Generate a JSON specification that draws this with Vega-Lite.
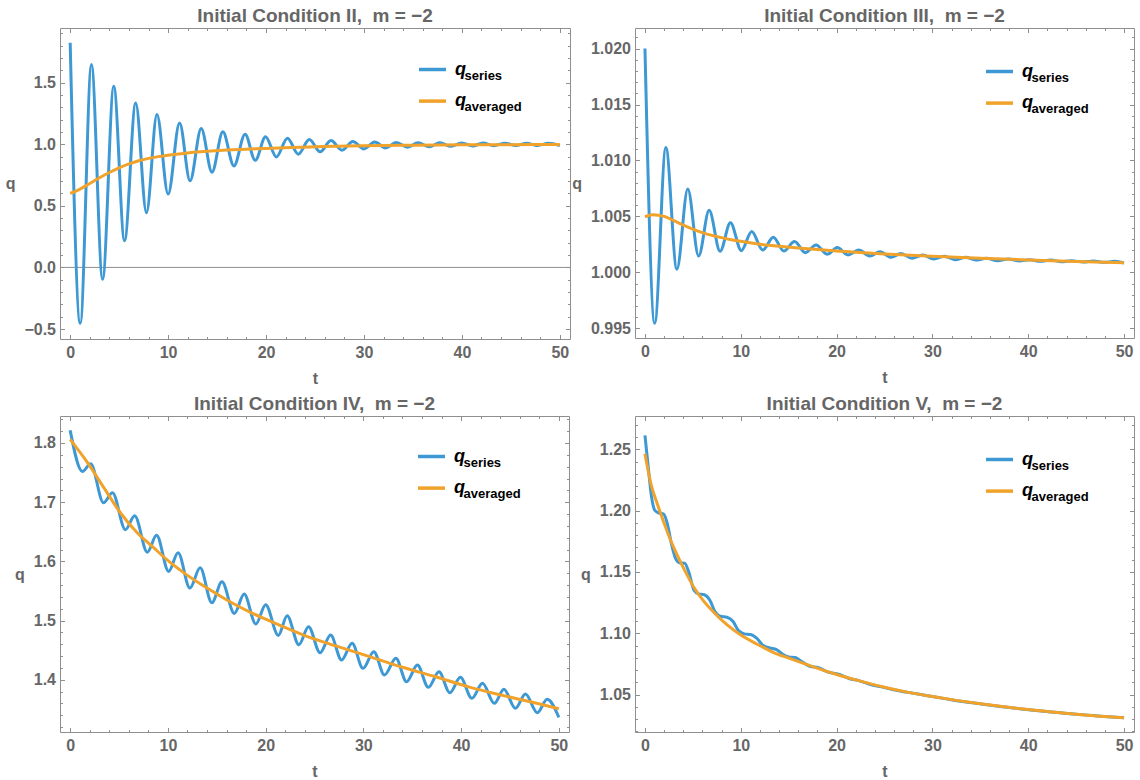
{
  "$schema": "https://vega.github.io/schema/vega-lite/v6.json",
  "background": "white",
  "padding": {"left": 4, "top": 6, "right": 0, "bottom": 0},
  "datasets": {
    "p1": [
      {"t": 0, "q": 1.824, "curve": "series"},
      {"t": 1.03, "q": -0.454, "curve": "series"},
      {"t": 2.17, "q": 1.646, "curve": "series"},
      {"t": 3.31, "q": -0.097, "curve": "series"},
      {"t": 4.45, "q": 1.47, "curve": "series"},
      {"t": 5.55, "q": 0.216, "curve": "series"},
      {"t": 6.69, "q": 1.335, "curve": "series"},
      {"t": 7.79, "q": 0.443, "curve": "series"},
      {"t": 8.86, "q": 1.241, "curve": "series"},
      {"t": 10.0, "q": 0.595, "curve": "series"},
      {"t": 11.17, "q": 1.173, "curve": "series"},
      {"t": 12.24, "q": 0.703, "curve": "series"},
      {"t": 13.38, "q": 1.127, "curve": "series"},
      {"t": 14.48, "q": 0.773, "curve": "series"},
      {"t": 15.59, "q": 1.1, "curve": "series"},
      {"t": 16.72, "q": 0.824, "curve": "series"},
      {"t": 17.86, "q": 1.081, "curve": "series"},
      {"t": 18.9, "q": 0.869, "curve": "series"},
      {"t": 19.95, "q": 1.06, "curve": "series"},
      {"t": 21.05, "q": 0.897, "curve": "series"},
      {"t": 22.19, "q": 1.049, "curve": "series"},
      {"t": 23.29, "q": 0.919, "curve": "series"},
      {"t": 24.42, "q": 1.038, "curve": "series"},
      {"t": 25.53, "q": 0.938, "curve": "series"},
      {"t": 26.63, "q": 1.03, "curve": "series"},
      {"t": 27.76, "q": 0.951, "curve": "series"},
      {"t": 28.86, "q": 1.022, "curve": "series"},
      {"t": 29.99, "q": 0.962, "curve": "series"},
      {"t": 31.09, "q": 1.017, "curve": "series"},
      {"t": 32.23, "q": 0.97, "curve": "series"},
      {"t": 33.3, "q": 1.014, "curve": "series"},
      {"t": 34.45, "q": 0.976, "curve": "series"},
      {"t": 35.52, "q": 1.012, "curve": "series"},
      {"t": 36.68, "q": 0.979, "curve": "series"},
      {"t": 37.74, "q": 1.011, "curve": "series"},
      {"t": 38.9, "q": 0.983, "curve": "series"},
      {"t": 39.97, "q": 1.01, "curve": "series"},
      {"t": 41.1, "q": 0.986, "curve": "series"},
      {"t": 42.16, "q": 1.009, "curve": "series"},
      {"t": 43.26, "q": 0.988, "curve": "series"},
      {"t": 44.42, "q": 1.008, "curve": "series"},
      {"t": 45.5, "q": 0.989, "curve": "series"},
      {"t": 46.6, "q": 1.008, "curve": "series"},
      {"t": 47.72, "q": 0.99, "curve": "series"},
      {"t": 48.84, "q": 1.007, "curve": "series"},
      {"t": 50, "q": 0.988, "curve": "series"},
      {"t": 0, "q": 0.6, "curve": "averaged"},
      {"t": 1, "q": 0.636, "curve": "averaged"},
      {"t": 2, "q": 0.681, "curve": "averaged"},
      {"t": 3, "q": 0.728, "curve": "averaged"},
      {"t": 4, "q": 0.77, "curve": "averaged"},
      {"t": 5, "q": 0.808, "curve": "averaged"},
      {"t": 6, "q": 0.84, "curve": "averaged"},
      {"t": 7, "q": 0.866, "curve": "averaged"},
      {"t": 8, "q": 0.885, "curve": "averaged"},
      {"t": 9, "q": 0.899, "curve": "averaged"},
      {"t": 10, "q": 0.91, "curve": "averaged"},
      {"t": 12, "q": 0.929, "curve": "averaged"},
      {"t": 14, "q": 0.942, "curve": "averaged"},
      {"t": 16, "q": 0.952, "curve": "averaged"},
      {"t": 18, "q": 0.959, "curve": "averaged"},
      {"t": 20, "q": 0.966, "curve": "averaged"},
      {"t": 22.5, "q": 0.973, "curve": "averaged"},
      {"t": 25, "q": 0.979, "curve": "averaged"},
      {"t": 27.5, "q": 0.984, "curve": "averaged"},
      {"t": 30, "q": 0.988, "curve": "averaged"},
      {"t": 35, "q": 0.992, "curve": "averaged"},
      {"t": 40, "q": 0.995, "curve": "averaged"},
      {"t": 45, "q": 0.996, "curve": "averaged"},
      {"t": 50, "q": 0.997, "curve": "averaged"}
    ],
    "p2": [
      {"t": 0, "q": 1.02, "curve": "series"},
      {"t": 1.02, "q": 0.99545, "curve": "series"},
      {"t": 2.18, "q": 1.01116, "curve": "series"},
      {"t": 3.33, "q": 1.00027, "curve": "series"},
      {"t": 4.47, "q": 1.00744, "curve": "series"},
      {"t": 5.6, "q": 1.00146, "curve": "series"},
      {"t": 6.7, "q": 1.00554, "curve": "series"},
      {"t": 7.84, "q": 1.00188, "curve": "series"},
      {"t": 8.92, "q": 1.00443, "curve": "series"},
      {"t": 10.06, "q": 1.00194, "curve": "series"},
      {"t": 11.14, "q": 1.00365, "curve": "series"},
      {"t": 12.28, "q": 1.00199, "curve": "series"},
      {"t": 13.4, "q": 1.00313, "curve": "series"},
      {"t": 14.49, "q": 1.0019, "curve": "series"},
      {"t": 15.61, "q": 1.00275, "curve": "series"},
      {"t": 16.74, "q": 1.00176, "curve": "series"},
      {"t": 17.86, "q": 1.00244, "curve": "series"},
      {"t": 19.02, "q": 1.00161, "curve": "series"},
      {"t": 20.07, "q": 1.00222, "curve": "series"},
      {"t": 21.19, "q": 1.00155, "curve": "series"},
      {"t": 22.31, "q": 1.00199, "curve": "series"},
      {"t": 23.47, "q": 1.00146, "curve": "series"},
      {"t": 24.52, "q": 1.00184, "curve": "series"},
      {"t": 25.68, "q": 1.00134, "curve": "series"},
      {"t": 26.73, "q": 1.00169, "curve": "series"},
      {"t": 27.86, "q": 1.00125, "curve": "series"},
      {"t": 28.98, "q": 1.00155, "curve": "series"},
      {"t": 30.14, "q": 1.00119, "curve": "series"},
      {"t": 31.26, "q": 1.00143, "curve": "series"},
      {"t": 32.35, "q": 1.00113, "curve": "series"},
      {"t": 33.47, "q": 1.00134, "curve": "series"},
      {"t": 34.52, "q": 1.0011, "curve": "series"},
      {"t": 35.64, "q": 1.00125, "curve": "series"},
      {"t": 36.8, "q": 1.00104, "curve": "series"},
      {"t": 37.96, "q": 1.00119, "curve": "series"},
      {"t": 39.08, "q": 1.00101, "curve": "series"},
      {"t": 40.13, "q": 1.00113, "curve": "series"},
      {"t": 41.26, "q": 1.00098, "curve": "series"},
      {"t": 42.34, "q": 1.0011, "curve": "series"},
      {"t": 43.47, "q": 1.00095, "curve": "series"},
      {"t": 44.52, "q": 1.00104, "curve": "series"},
      {"t": 45.75, "q": 1.00092, "curve": "series"},
      {"t": 46.8, "q": 1.00101, "curve": "series"},
      {"t": 47.93, "q": 1.00089, "curve": "series"},
      {"t": 49.01, "q": 1.00098, "curve": "series"},
      {"t": 50, "q": 1.00083, "curve": "series"},
      {"t": 0, "q": 1.00497, "curve": "averaged"},
      {"t": 0.8, "q": 1.00515, "curve": "averaged"},
      {"t": 2, "q": 1.005, "curve": "averaged"},
      {"t": 3, "q": 1.00462, "curve": "averaged"},
      {"t": 4, "q": 1.00422, "curve": "averaged"},
      {"t": 5, "q": 1.00386, "curve": "averaged"},
      {"t": 6, "q": 1.00355, "curve": "averaged"},
      {"t": 7, "q": 1.0033, "curve": "averaged"},
      {"t": 8, "q": 1.0031, "curve": "averaged"},
      {"t": 9, "q": 1.00292, "curve": "averaged"},
      {"t": 10, "q": 1.00277, "curve": "averaged"},
      {"t": 12, "q": 1.00252, "curve": "averaged"},
      {"t": 14, "q": 1.00233, "curve": "averaged"},
      {"t": 16, "q": 1.00217, "curve": "averaged"},
      {"t": 18, "q": 1.00203, "curve": "averaged"},
      {"t": 20, "q": 1.00191, "curve": "averaged"},
      {"t": 22, "q": 1.0018, "curve": "averaged"},
      {"t": 25, "q": 1.00164, "curve": "averaged"},
      {"t": 30, "q": 1.00143, "curve": "averaged"},
      {"t": 35, "q": 1.00126, "curve": "averaged"},
      {"t": 40, "q": 1.00111, "curve": "averaged"},
      {"t": 45, "q": 1.00097, "curve": "averaged"},
      {"t": 50, "q": 1.00086, "curve": "averaged"}
    ],
    "p3": [
      {"t": 0, "q": 1.8214, "curve": "series"},
      {"t": 1.25, "q": 1.752, "curve": "series"},
      {"t": 2.1, "q": 1.765, "curve": "series"},
      {"t": 3.41, "q": 1.699, "curve": "series"},
      {"t": 4.33, "q": 1.716, "curve": "series"},
      {"t": 5.65, "q": 1.6535, "curve": "series"},
      {"t": 6.6, "q": 1.677, "curve": "series"},
      {"t": 7.9, "q": 1.6155, "curve": "series"},
      {"t": 8.84, "q": 1.644, "curve": "series"},
      {"t": 10.08, "q": 1.583, "curve": "series"},
      {"t": 11.04, "q": 1.6146, "curve": "series"},
      {"t": 12.25, "q": 1.555, "curve": "series"},
      {"t": 13.3, "q": 1.589, "curve": "series"},
      {"t": 14.5, "q": 1.53, "curve": "series"},
      {"t": 15.53, "q": 1.5655, "curve": "series"},
      {"t": 16.8, "q": 1.5121, "curve": "series"},
      {"t": 17.8, "q": 1.5448, "curve": "series"},
      {"t": 19.0, "q": 1.4941, "curve": "series"},
      {"t": 20.0, "q": 1.5268, "curve": "series"},
      {"t": 21.3, "q": 1.4749, "curve": "series"},
      {"t": 22.2, "q": 1.5082, "curve": "series"},
      {"t": 23.4, "q": 1.4592, "curve": "series"},
      {"t": 24.39, "q": 1.4895, "curve": "series"},
      {"t": 25.57, "q": 1.4456, "curve": "series"},
      {"t": 26.65, "q": 1.4755, "curve": "series"},
      {"t": 27.77, "q": 1.4333, "curve": "series"},
      {"t": 28.85, "q": 1.4615, "curve": "series"},
      {"t": 29.96, "q": 1.4193, "curve": "series"},
      {"t": 31.07, "q": 1.4473, "curve": "series"},
      {"t": 32.16, "q": 1.408, "curve": "series"},
      {"t": 33.33, "q": 1.4361, "curve": "series"},
      {"t": 34.42, "q": 1.3966, "curve": "series"},
      {"t": 35.53, "q": 1.4248, "curve": "series"},
      {"t": 36.65, "q": 1.3872, "curve": "series"},
      {"t": 37.73, "q": 1.4135, "curve": "series"},
      {"t": 38.85, "q": 1.3781, "curve": "series"},
      {"t": 39.92, "q": 1.404, "curve": "series"},
      {"t": 41.1, "q": 1.3686, "curve": "series"},
      {"t": 42.19, "q": 1.3939, "curve": "series"},
      {"t": 43.4, "q": 1.3601, "curve": "series"},
      {"t": 44.38, "q": 1.3838, "curve": "series"},
      {"t": 45.56, "q": 1.3517, "curve": "series"},
      {"t": 46.58, "q": 1.3759, "curve": "series"},
      {"t": 47.8, "q": 1.3443, "curve": "series"},
      {"t": 48.8, "q": 1.3669, "curve": "series"},
      {"t": 50, "q": 1.3365, "curve": "series"},
      {"t": 0, "q": 1.806, "curve": "averaged"},
      {"t": 1.72, "q": 1.768, "curve": "averaged"},
      {"t": 3.41, "q": 1.7255, "curve": "averaged"},
      {"t": 5.1, "q": 1.683, "curve": "averaged"},
      {"t": 6.79, "q": 1.6495, "curve": "averaged"},
      {"t": 8.48, "q": 1.624, "curve": "averaged"},
      {"t": 10.17, "q": 1.599, "curve": "averaged"},
      {"t": 11.86, "q": 1.578, "curve": "averaged"},
      {"t": 13.55, "q": 1.5595, "curve": "averaged"},
      {"t": 15.24, "q": 1.5426, "curve": "averaged"},
      {"t": 16.92, "q": 1.5267, "curve": "averaged"},
      {"t": 18.6, "q": 1.5127, "curve": "averaged"},
      {"t": 20.3, "q": 1.5003, "curve": "averaged"},
      {"t": 21.65, "q": 1.4907, "curve": "averaged"},
      {"t": 23.88, "q": 1.4755, "curve": "averaged"},
      {"t": 27.26, "q": 1.4568, "curve": "averaged"},
      {"t": 30.64, "q": 1.439, "curve": "averaged"},
      {"t": 34.01, "q": 1.421, "curve": "averaged"},
      {"t": 37.39, "q": 1.405, "curve": "averaged"},
      {"t": 40.77, "q": 1.388, "curve": "averaged"},
      {"t": 44.14, "q": 1.374, "curve": "averaged"},
      {"t": 47.52, "q": 1.361, "curve": "averaged"},
      {"t": 50, "q": 1.351, "curve": "averaged"}
    ],
    "p4": [
      {"t": 0, "q": 1.2614, "curve": "series"},
      {"t": 0.34, "q": 1.2356, "curve": "series"},
      {"t": 0.69, "q": 1.2111, "curve": "series"},
      {"t": 1.03, "q": 1.2002, "curve": "series"},
      {"t": 1.48, "q": 1.198, "curve": "series"},
      {"t": 1.93, "q": 1.1974, "curve": "series"},
      {"t": 2.34, "q": 1.1893, "curve": "series"},
      {"t": 2.76, "q": 1.173, "curve": "series"},
      {"t": 3.21, "q": 1.1607, "curve": "series"},
      {"t": 3.66, "q": 1.1574, "curve": "series"},
      {"t": 4.14, "q": 1.1572, "curve": "series"},
      {"t": 4.58, "q": 1.1498, "curve": "series"},
      {"t": 5.1, "q": 1.1354, "curve": "series"},
      {"t": 5.62, "q": 1.1321, "curve": "series"},
      {"t": 6.13, "q": 1.1316, "curve": "series"},
      {"t": 6.76, "q": 1.1272, "curve": "series"},
      {"t": 7.34, "q": 1.1172, "curve": "series"},
      {"t": 7.86, "q": 1.1139, "curve": "series"},
      {"t": 8.55, "q": 1.1131, "curve": "series"},
      {"t": 9.18, "q": 1.1098, "curve": "series"},
      {"t": 9.76, "q": 1.1022, "curve": "series"},
      {"t": 10.38, "q": 1.0995, "curve": "series"},
      {"t": 11.03, "q": 1.099, "curve": "series"},
      {"t": 11.66, "q": 1.096, "curve": "series"},
      {"t": 12.34, "q": 1.09, "curve": "series"},
      {"t": 13.03, "q": 1.088, "curve": "series"},
      {"t": 13.72, "q": 1.0867, "curve": "series"},
      {"t": 14.41, "q": 1.0827, "curve": "series"},
      {"t": 15.0, "q": 1.0807, "curve": "series"},
      {"t": 15.7, "q": 1.0802, "curve": "series"},
      {"t": 16.4, "q": 1.0767, "curve": "series"},
      {"t": 17.2, "q": 1.0731, "curve": "series"},
      {"t": 18.1, "q": 1.072, "curve": "series"},
      {"t": 19.05, "q": 1.0685, "curve": "series"},
      {"t": 20.2, "q": 1.0666, "curve": "series"},
      {"t": 21.3, "q": 1.0631, "curve": "series"},
      {"t": 22.4, "q": 1.0612, "curve": "series"},
      {"t": 23.55, "q": 1.0582, "curve": "series"},
      {"t": 24.7, "q": 1.0563, "curve": "series"},
      {"t": 25.8, "q": 1.0541, "curve": "series"},
      {"t": 27.3, "q": 1.052, "curve": "series"},
      {"t": 28.8, "q": 1.05, "curve": "series"},
      {"t": 30.3, "q": 1.0481, "curve": "series"},
      {"t": 31.8, "q": 1.046, "curve": "series"},
      {"t": 33.3, "q": 1.0442, "curve": "series"},
      {"t": 34.8, "q": 1.0427, "curve": "series"},
      {"t": 36.3, "q": 1.0411, "curve": "series"},
      {"t": 37.8, "q": 1.0397, "curve": "series"},
      {"t": 39.3, "q": 1.0383, "curve": "series"},
      {"t": 40.8, "q": 1.037, "curve": "series"},
      {"t": 42.3, "q": 1.0359, "curve": "series"},
      {"t": 43.8, "q": 1.0348, "curve": "series"},
      {"t": 45.3, "q": 1.0338, "curve": "series"},
      {"t": 46.8, "q": 1.0329, "curve": "series"},
      {"t": 48.3, "q": 1.032, "curve": "series"},
      {"t": 50, "q": 1.0312, "curve": "series"},
      {"t": 0, "q": 1.2464, "curve": "averaged"},
      {"t": 0.62, "q": 1.2219, "curve": "averaged"},
      {"t": 1.31, "q": 1.2051, "curve": "averaged"},
      {"t": 2.0, "q": 1.1898, "curve": "averaged"},
      {"t": 2.69, "q": 1.1757, "curve": "averaged"},
      {"t": 3.38, "q": 1.1635, "curve": "averaged"},
      {"t": 4.07, "q": 1.1525, "curve": "averaged"},
      {"t": 5.1, "q": 1.1376, "curve": "averaged"},
      {"t": 6.13, "q": 1.1262, "curve": "averaged"},
      {"t": 7.17, "q": 1.1172, "curve": "averaged"},
      {"t": 8.55, "q": 1.1071, "curve": "averaged"},
      {"t": 9.93, "q": 1.099, "curve": "averaged"},
      {"t": 11.66, "q": 1.0913, "curve": "averaged"},
      {"t": 13.38, "q": 1.0845, "curve": "averaged"},
      {"t": 15.1, "q": 1.0795, "curve": "averaged"},
      {"t": 17.5, "q": 1.0728, "curve": "averaged"},
      {"t": 20, "q": 1.0664, "curve": "averaged"},
      {"t": 22.5, "q": 1.061, "curve": "averaged"},
      {"t": 25, "q": 1.056, "curve": "averaged"},
      {"t": 27.5, "q": 1.0518, "curve": "averaged"},
      {"t": 30, "q": 1.0484, "curve": "averaged"},
      {"t": 32.5, "q": 1.0453, "curve": "averaged"},
      {"t": 35, "q": 1.0425, "curve": "averaged"},
      {"t": 37.5, "q": 1.04, "curve": "averaged"},
      {"t": 40, "q": 1.0378, "curve": "averaged"},
      {"t": 42.5, "q": 1.0358, "curve": "averaged"},
      {"t": 45, "q": 1.034, "curve": "averaged"},
      {"t": 47.5, "q": 1.0324, "curve": "averaged"},
      {"t": 50, "q": 1.0311, "curve": "averaged"}
    ]
  },
  "columns": 2,
  "spacing": {"row": 6, "column": 0},
  "concat": [
    {
      "title": {"text": "Initial Condition II,\u00a0 m = −2"},
      "width": 510, "height": 311,
      "data": {"name": "p1"},
      "layer": [
        {"data": {"values": [{}]}, "mark": {"type": "rule", "color": "#8f8f8f", "strokeWidth": 1},
         "encoding": {"y": {"datum": 0, "type": "quantitative", "scale": {"domain": [-0.581, 1.943], "nice": false, "zero": false}, "axis": null}}},
        {
          "encoding": {
            "color": {"field": "curve", "type": "nominal", "scale": {"domain": ["series", "averaged"], "range": ["#3d98d3", "#f0a22b"]},
              "legend": {"title": null, "orient": "none", "legendX": 357, "legendY": 26, "padding": 0, "symbolType": "stroke", "symbolSize": 729, "symbolStrokeWidth": 3.5, "labelExpr": "'q'", "labelFont": "Liberation Sans", "labelFontSize": 18, "labelFontStyle": "italic", "labelFontWeight": "bold", "labelColor": "#000000", "labelOffset": 7, "rowPadding": 6.6}},
            "opacity": {"field": "curve", "type": "nominal", "sort": ["series", "averaged"], "scale": {"range": [1, 1]},
              "legend": {"title": null, "orient": "none", "legendX": 357, "legendY": 38, "padding": 0, "symbolType": "stroke", "symbolSize": 729, "symbolStrokeWidth": 0, "symbolStrokeColor": "transparent", "symbolFillColor": "transparent", "labelFont": "Liberation Sans", "labelFontSize": 13, "labelFontWeight": "bold", "labelColor": "#000000", "labelOffset": 20.5, "labelBaseline": "alphabetic", "rowPadding": 14.6}}
          },
          "layer": [
            {"transform": [{"filter": "datum.curve === 'series'"}],
             "mark": {"type": "line", "interpolate": "monotone", "strokeWidth": 3},
             "encoding": {
               "x": {"field": "t", "type": "quantitative", "scale": {"domain": [-1.04, 51.04], "nice": false, "zero": false},
                 "axis": {"orient": "bottom", "values": [0, 10, 20, 30, 40, 50], "format": "d", "tickSize": -4.5, "labelPadding": 10.2, "title": "t", "titlePadding": 10.2}},
               "y": {"field": "q", "type": "quantitative", "scale": {"domain": [-0.581, 1.943], "nice": false, "zero": false},
                 "axis": {"orient": "left", "values": [-0.5, 0, 0.5, 1, 1.5], "format": ".1f", "tickSize": -4.5, "labelPadding": 9, "title": "q", "titleAngle": 0, "titleAlign": "right", "titleBaseline": "middle", "titlePadding": 9}}
             }},
            {"transform": [{"filter": "datum.curve === 'averaged'"}],
             "mark": {"type": "line", "interpolate": "monotone", "strokeWidth": 3},
             "encoding": {
               "x": {"field": "t", "type": "quantitative", "scale": {"domain": [-1.04, 51.04], "nice": false, "zero": false},
                 "axis": {"orient": "top", "values": [0, 10, 20, 30, 40, 50], "labels": false, "tickSize": -4.5, "title": null}},
               "y": {"field": "q", "type": "quantitative", "scale": {"domain": [-0.581, 1.943], "nice": false, "zero": false},
                 "axis": {"orient": "right", "values": [-0.5, 0, 0.5, 1, 1.5], "labels": false, "tickSize": -4.5, "title": null}}
             }}
          ],
          "resolve": {"axis": {"x": "independent", "y": "independent"}}
        },
        {"data": {"values": [{}]}, "mark": {"type": "point", "opacity": 0},
         "encoding": {
           "x": {"datum": 0, "type": "quantitative", "scale": {"domain": [-1.04, 51.04], "nice": false, "zero": false},
             "axis": {"orient": "bottom", "values": [2, 4, 6, 8, 12, 14, 16, 18, 22, 24, 26, 28, 32, 34, 36, 38, 42, 44, 46, 48], "labels": false, "tickSize": -2.5, "title": null}},
           "y": {"datum": 1, "type": "quantitative", "scale": {"domain": [-0.581, 1.943], "nice": false, "zero": false},
             "axis": {"orient": "left", "values": [-0.4, -0.3, -0.2, -0.1, 0.1, 0.2, 0.3, 0.4, 0.6, 0.7, 0.8, 0.9, 1.1, 1.2, 1.3, 1.4, 1.6, 1.7, 1.8, 1.9], "labels": false, "tickSize": -2.5, "title": null}}
         }},
        {"data": {"values": [{}]}, "mark": {"type": "point", "opacity": 0},
         "encoding": {
           "x": {"datum": 0, "type": "quantitative", "scale": {"domain": [-1.04, 51.04], "nice": false, "zero": false},
             "axis": {"orient": "top", "values": [2, 4, 6, 8, 12, 14, 16, 18, 22, 24, 26, 28, 32, 34, 36, 38, 42, 44, 46, 48], "labels": false, "tickSize": -2.5, "title": null}},
           "y": {"datum": 1, "type": "quantitative", "scale": {"domain": [-0.581, 1.943], "nice": false, "zero": false},
             "axis": {"orient": "right", "values": [-0.4, -0.3, -0.2, -0.1, 0.1, 0.2, 0.3, 0.4, 0.6, 0.7, 0.8, 0.9, 1.1, 1.2, 1.3, 1.4, 1.6, 1.7, 1.8, 1.9], "labels": false, "tickSize": -2.5, "title": null}}
         }}
      ],
      "resolve": {"axis": {"x": "independent", "y": "independent"}}
    },
    {
      "title": {"text": "Initial Condition III,\u00a0 m = −2"},
      "width": 499, "height": 310,
      "data": {"name": "p2"},
      "layer": [
        {
          "encoding": {
            "color": {"field": "curve", "type": "nominal", "scale": {"domain": ["series", "averaged"], "range": ["#3d98d3", "#f0a22b"]},
              "legend": {"title": null, "orient": "none", "legendX": 349, "legendY": 28, "padding": 0, "symbolType": "stroke", "symbolSize": 729, "symbolStrokeWidth": 3.5, "labelExpr": "'q'", "labelFont": "Liberation Sans", "labelFontSize": 18, "labelFontStyle": "italic", "labelFontWeight": "bold", "labelColor": "#000000", "labelOffset": 7, "rowPadding": 6.6}},
            "opacity": {"field": "curve", "type": "nominal", "sort": ["series", "averaged"], "scale": {"range": [1, 1]},
              "legend": {"title": null, "orient": "none", "legendX": 349, "legendY": 40, "padding": 0, "symbolType": "stroke", "symbolSize": 729, "symbolStrokeWidth": 0, "symbolStrokeColor": "transparent", "symbolFillColor": "transparent", "labelFont": "Liberation Sans", "labelFontSize": 13, "labelFontWeight": "bold", "labelColor": "#000000", "labelOffset": 20.5, "labelBaseline": "alphabetic", "rowPadding": 14.6}}
          },
          "layer": [
            {"transform": [{"filter": "datum.curve === 'series'"}],
             "mark": {"type": "line", "interpolate": "monotone", "strokeWidth": 3},
             "encoding": {
               "x": {"field": "t", "type": "quantitative", "scale": {"domain": [-1.04, 51.04], "nice": false, "zero": false},
                 "axis": {"orient": "bottom", "values": [0, 10, 20, 30, 40, 50], "format": "d", "tickSize": -4.5, "labelPadding": 10.2, "title": "t", "titlePadding": 10.2}},
               "y": {"field": "q", "type": "quantitative", "scale": {"domain": [0.99413, 1.02184], "nice": false, "zero": false},
                 "axis": {"orient": "left", "values": [0.995, 1, 1.005, 1.01, 1.015, 1.02], "format": ".3f", "tickSize": -4.5, "labelPadding": 9, "title": "q", "titleAngle": 0, "titleAlign": "right", "titleBaseline": "middle", "titlePadding": 9}}
             }},
            {"transform": [{"filter": "datum.curve === 'averaged'"}],
             "mark": {"type": "line", "interpolate": "monotone", "strokeWidth": 3},
             "encoding": {
               "x": {"field": "t", "type": "quantitative", "scale": {"domain": [-1.04, 51.04], "nice": false, "zero": false},
                 "axis": {"orient": "top", "values": [0, 10, 20, 30, 40, 50], "labels": false, "tickSize": -4.5, "title": null}},
               "y": {"field": "q", "type": "quantitative", "scale": {"domain": [0.99413, 1.02184], "nice": false, "zero": false},
                 "axis": {"orient": "right", "values": [0.995, 1, 1.005, 1.01, 1.015, 1.02], "labels": false, "tickSize": -4.5, "title": null}}
             }}
          ],
          "resolve": {"axis": {"x": "independent", "y": "independent"}}
        },
        {"data": {"values": [{}]}, "mark": {"type": "point", "opacity": 0},
         "encoding": {
           "x": {"datum": 0, "type": "quantitative", "scale": {"domain": [-1.04, 51.04], "nice": false, "zero": false},
             "axis": {"orient": "bottom", "values": [2, 4, 6, 8, 12, 14, 16, 18, 22, 24, 26, 28, 32, 34, 36, 38, 42, 44, 46, 48], "labels": false, "tickSize": -2.5, "title": null}},
           "y": {"datum": 1, "type": "quantitative", "scale": {"domain": [0.99413, 1.02184], "nice": false, "zero": false},
             "axis": {"orient": "left", "values": [0.996, 0.997, 0.998, 0.999, 1.001, 1.002, 1.003, 1.004, 1.006, 1.007, 1.008, 1.009, 1.011, 1.012, 1.013, 1.014, 1.016, 1.017, 1.018, 1.019, 1.021], "labels": false, "tickSize": -2.5, "title": null}}
         }},
        {"data": {"values": [{}]}, "mark": {"type": "point", "opacity": 0},
         "encoding": {
           "x": {"datum": 0, "type": "quantitative", "scale": {"domain": [-1.04, 51.04], "nice": false, "zero": false},
             "axis": {"orient": "top", "values": [2, 4, 6, 8, 12, 14, 16, 18, 22, 24, 26, 28, 32, 34, 36, 38, 42, 44, 46, 48], "labels": false, "tickSize": -2.5, "title": null}},
           "y": {"datum": 1, "type": "quantitative", "scale": {"domain": [0.99413, 1.02184], "nice": false, "zero": false},
             "axis": {"orient": "right", "values": [0.996, 0.997, 0.998, 0.999, 1.001, 1.002, 1.003, 1.004, 1.006, 1.007, 1.008, 1.009, 1.011, 1.012, 1.013, 1.014, 1.016, 1.017, 1.018, 1.019, 1.021], "labels": false, "tickSize": -2.5, "title": null}}
         }}
      ],
      "resolve": {"axis": {"x": "independent", "y": "independent"}}
    },
    {
      "title": {"text": "Initial Condition IV,\u00a0 m = −2"},
      "width": 509, "height": 316,
      "data": {"name": "p3"},
      "layer": [
        {
          "encoding": {
            "color": {"field": "curve", "type": "nominal", "scale": {"domain": ["series", "averaged"], "range": ["#3d98d3", "#f0a22b"]},
              "legend": {"title": null, "orient": "none", "legendX": 356, "legendY": 25, "padding": 0, "symbolType": "stroke", "symbolSize": 729, "symbolStrokeWidth": 3.5, "labelExpr": "'q'", "labelFont": "Liberation Sans", "labelFontSize": 18, "labelFontStyle": "italic", "labelFontWeight": "bold", "labelColor": "#000000", "labelOffset": 7, "rowPadding": 6.6}},
            "opacity": {"field": "curve", "type": "nominal", "sort": ["series", "averaged"], "scale": {"range": [1, 1]},
              "legend": {"title": null, "orient": "none", "legendX": 356, "legendY": 37, "padding": 0, "symbolType": "stroke", "symbolSize": 729, "symbolStrokeWidth": 0, "symbolStrokeColor": "transparent", "symbolFillColor": "transparent", "labelFont": "Liberation Sans", "labelFontSize": 13, "labelFontWeight": "bold", "labelColor": "#000000", "labelOffset": 20.5, "labelBaseline": "alphabetic", "rowPadding": 14.6}}
          },
          "layer": [
            {"transform": [{"filter": "datum.curve === 'series'"}],
             "mark": {"type": "line", "interpolate": "monotone", "strokeWidth": 3},
             "encoding": {
               "x": {"field": "t", "type": "quantitative", "scale": {"domain": [-1.04, 51.04], "nice": false, "zero": false},
                 "axis": {"orient": "bottom", "values": [0, 10, 20, 30, 40, 50], "format": "d", "tickSize": -4.5, "labelPadding": 10.2, "title": "t", "titlePadding": 10.2}},
               "y": {"field": "q", "type": "quantitative", "scale": {"domain": [1.3117, 1.8456], "nice": false, "zero": false},
                 "axis": {"orient": "left", "values": [1.4, 1.5, 1.6, 1.7, 1.8], "format": ".1f", "tickSize": -4.5, "labelPadding": 9, "title": "q", "titleAngle": 0, "titleAlign": "right", "titleBaseline": "middle", "titlePadding": 9}}
             }},
            {"transform": [{"filter": "datum.curve === 'averaged'"}],
             "mark": {"type": "line", "interpolate": "monotone", "strokeWidth": 3},
             "encoding": {
               "x": {"field": "t", "type": "quantitative", "scale": {"domain": [-1.04, 51.04], "nice": false, "zero": false},
                 "axis": {"orient": "top", "values": [0, 10, 20, 30, 40, 50], "labels": false, "tickSize": -4.5, "title": null}},
               "y": {"field": "q", "type": "quantitative", "scale": {"domain": [1.3117, 1.8456], "nice": false, "zero": false},
                 "axis": {"orient": "right", "values": [1.4, 1.5, 1.6, 1.7, 1.8], "labels": false, "tickSize": -4.5, "title": null}}
             }}
          ],
          "resolve": {"axis": {"x": "independent", "y": "independent"}}
        },
        {"data": {"values": [{}]}, "mark": {"type": "point", "opacity": 0},
         "encoding": {
           "x": {"datum": 0, "type": "quantitative", "scale": {"domain": [-1.04, 51.04], "nice": false, "zero": false},
             "axis": {"orient": "bottom", "values": [2, 4, 6, 8, 12, 14, 16, 18, 22, 24, 26, 28, 32, 34, 36, 38, 42, 44, 46, 48], "labels": false, "tickSize": -2.5, "title": null}},
           "y": {"datum": 1.5, "type": "quantitative", "scale": {"domain": [1.3117, 1.8456], "nice": false, "zero": false},
             "axis": {"orient": "left", "values": [1.32, 1.34, 1.36, 1.38, 1.42, 1.44, 1.46, 1.48, 1.52, 1.54, 1.56, 1.58, 1.62, 1.64, 1.66, 1.68, 1.72, 1.74, 1.76, 1.78, 1.82, 1.84], "labels": false, "tickSize": -2.5, "title": null}}
         }},
        {"data": {"values": [{}]}, "mark": {"type": "point", "opacity": 0},
         "encoding": {
           "x": {"datum": 0, "type": "quantitative", "scale": {"domain": [-1.04, 51.04], "nice": false, "zero": false},
             "axis": {"orient": "top", "values": [2, 4, 6, 8, 12, 14, 16, 18, 22, 24, 26, 28, 32, 34, 36, 38, 42, 44, 46, 48], "labels": false, "tickSize": -2.5, "title": null}},
           "y": {"datum": 1.5, "type": "quantitative", "scale": {"domain": [1.3117, 1.8456], "nice": false, "zero": false},
             "axis": {"orient": "right", "values": [1.32, 1.34, 1.36, 1.38, 1.42, 1.44, 1.46, 1.48, 1.52, 1.54, 1.56, 1.58, 1.62, 1.64, 1.66, 1.68, 1.72, 1.74, 1.76, 1.78, 1.82, 1.84], "labels": false, "tickSize": -2.5, "title": null}}
         }}
      ],
      "resolve": {"axis": {"x": "independent", "y": "independent"}}
    },
    {
      "title": {"text": "Initial Condition V,\u00a0 m = −2"},
      "width": 499, "height": 316,
      "data": {"name": "p4"},
      "layer": [
        {
          "encoding": {
            "color": {"field": "curve", "type": "nominal", "scale": {"domain": ["series", "averaged"], "range": ["#3d98d3", "#f0a22b"]},
              "legend": {"title": null, "orient": "none", "legendX": 349, "legendY": 28, "padding": 0, "symbolType": "stroke", "symbolSize": 729, "symbolStrokeWidth": 3.5, "labelExpr": "'q'", "labelFont": "Liberation Sans", "labelFontSize": 18, "labelFontStyle": "italic", "labelFontWeight": "bold", "labelColor": "#000000", "labelOffset": 7, "rowPadding": 6.6}},
            "opacity": {"field": "curve", "type": "nominal", "sort": ["series", "averaged"], "scale": {"range": [1, 1]},
              "legend": {"title": null, "orient": "none", "legendX": 349, "legendY": 40, "padding": 0, "symbolType": "stroke", "symbolSize": 729, "symbolStrokeWidth": 0, "symbolStrokeColor": "transparent", "symbolFillColor": "transparent", "labelFont": "Liberation Sans", "labelFontSize": 13, "labelFontWeight": "bold", "labelColor": "#000000", "labelOffset": 20.5, "labelBaseline": "alphabetic", "rowPadding": 14.6}}
          },
          "layer": [
            {"transform": [{"filter": "datum.curve === 'series'"}],
             "mark": {"type": "line", "interpolate": "monotone", "strokeWidth": 3},
             "encoding": {
               "x": {"field": "t", "type": "quantitative", "scale": {"domain": [-1.04, 51.04], "nice": false, "zero": false},
                 "axis": {"orient": "bottom", "values": [0, 10, 20, 30, 40, 50], "format": "d", "tickSize": -4.5, "labelPadding": 10.2, "title": "t", "titlePadding": 10.2}},
               "y": {"field": "q", "type": "quantitative", "scale": {"domain": [1.0195, 1.2772], "nice": false, "zero": false},
                 "axis": {"orient": "left", "values": [1.05, 1.1, 1.15, 1.2, 1.25], "format": ".2f", "tickSize": -4.5, "labelPadding": 9, "title": "q", "titleAngle": 0, "titleAlign": "right", "titleBaseline": "middle", "titlePadding": 9}}
             }},
            {"transform": [{"filter": "datum.curve === 'averaged'"}],
             "mark": {"type": "line", "interpolate": "monotone", "strokeWidth": 3},
             "encoding": {
               "x": {"field": "t", "type": "quantitative", "scale": {"domain": [-1.04, 51.04], "nice": false, "zero": false},
                 "axis": {"orient": "top", "values": [0, 10, 20, 30, 40, 50], "labels": false, "tickSize": -4.5, "title": null}},
               "y": {"field": "q", "type": "quantitative", "scale": {"domain": [1.0195, 1.2772], "nice": false, "zero": false},
                 "axis": {"orient": "right", "values": [1.05, 1.1, 1.15, 1.2, 1.25], "labels": false, "tickSize": -4.5, "title": null}}
             }}
          ],
          "resolve": {"axis": {"x": "independent", "y": "independent"}}
        },
        {"data": {"values": [{}]}, "mark": {"type": "point", "opacity": 0},
         "encoding": {
           "x": {"datum": 0, "type": "quantitative", "scale": {"domain": [-1.04, 51.04], "nice": false, "zero": false},
             "axis": {"orient": "bottom", "values": [2, 4, 6, 8, 12, 14, 16, 18, 22, 24, 26, 28, 32, 34, 36, 38, 42, 44, 46, 48], "labels": false, "tickSize": -2.5, "title": null}},
           "y": {"datum": 1.1, "type": "quantitative", "scale": {"domain": [1.0195, 1.2772], "nice": false, "zero": false},
             "axis": {"orient": "left", "values": [1.02, 1.03, 1.04, 1.06, 1.07, 1.08, 1.09, 1.11, 1.12, 1.13, 1.14, 1.16, 1.17, 1.18, 1.19, 1.21, 1.22, 1.23, 1.24, 1.26, 1.27], "labels": false, "tickSize": -2.5, "title": null}}
         }},
        {"data": {"values": [{}]}, "mark": {"type": "point", "opacity": 0},
         "encoding": {
           "x": {"datum": 0, "type": "quantitative", "scale": {"domain": [-1.04, 51.04], "nice": false, "zero": false},
             "axis": {"orient": "top", "values": [2, 4, 6, 8, 12, 14, 16, 18, 22, 24, 26, 28, 32, 34, 36, 38, 42, 44, 46, 48], "labels": false, "tickSize": -2.5, "title": null}},
           "y": {"datum": 1.1, "type": "quantitative", "scale": {"domain": [1.0195, 1.2772], "nice": false, "zero": false},
             "axis": {"orient": "right", "values": [1.02, 1.03, 1.04, 1.06, 1.07, 1.08, 1.09, 1.11, 1.12, 1.13, 1.14, 1.16, 1.17, 1.18, 1.19, 1.21, 1.22, 1.23, 1.24, 1.26, 1.27], "labels": false, "tickSize": -2.5, "title": null}}
         }}
      ],
      "resolve": {"axis": {"x": "independent", "y": "independent"}}
    }
  ],
  "resolve": {"scale": {"color": "independent", "opacity": "independent", "x": "independent", "y": "independent"}, "legend": {"color": "independent", "opacity": "independent"}},
  "config": {
    "font": "Liberation Sans",
    "view": {"stroke": "#8f8f8f", "strokeWidth": 1},
    "axis": {
      "domain": false, "grid": false, "labelFlush": false, "labelOverlap": false,
      "labelFont": "Liberation Sans", "labelFontSize": 16, "labelFontWeight": "bold", "labelColor": "#666666",
      "titleFont": "Liberation Sans", "titleFontSize": 16, "titleFontWeight": "bold", "titleColor": "#666666",
      "tickColor": "#8f8f8f", "tickWidth": 1
    },
    "title": {"font": "Liberation Sans", "fontSize": 19, "fontWeight": "bold", "color": "#666666", "anchor": "middle", "offset": 2}
  }
}
